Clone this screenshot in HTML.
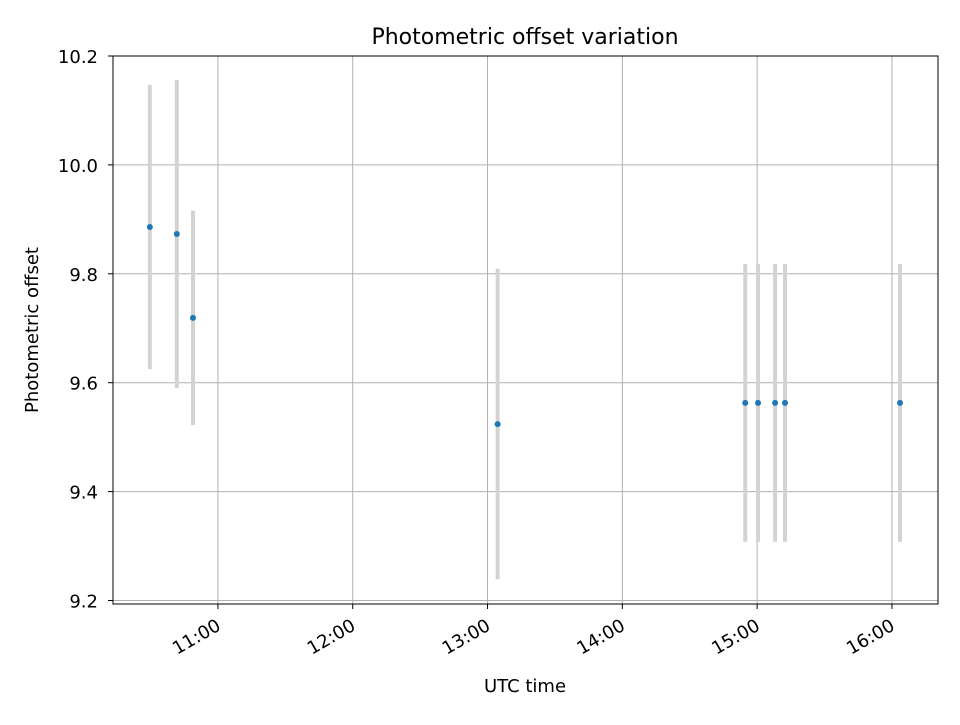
<!DOCTYPE html>
<html><head><meta charset="utf-8"><style>
body{margin:0;background:#fff;}
svg text{font-family:"DejaVu Sans","Liberation Sans",sans-serif;}
</style></head><body>
<svg id="chart" width="960" height="720" xmlns="http://www.w3.org/2000/svg">
<rect width="960" height="720" fill="#fff"/>
<g id="grid"></g><g id="bars"></g><g id="pts"></g><g id="axes"></g>
<text x="525" y="44" text-anchor="middle" font-size="22">Photometric offset variation</text>
<text x="525" y="692" text-anchor="middle" font-size="18">UTC time</text>
<text transform="translate(38,330) rotate(-90)" text-anchor="middle" font-size="18">Photometric offset</text>
</svg>
<script>
// times in minutes after midnight (UTC)
const times=[629.7,641.7,648.9,784.5,894.7,900.4,908,912.4,963.6];
const offsets=[9.886,9.873,9.719,9.524,9.563,9.563,9.563,9.563,9.563];
const errors=[0.261,0.283,0.197,0.285,0.255,0.255,0.255,0.255,0.255];
const yTicks=[9.2,9.4,9.6,9.8,10.0,10.2];
const xTicks=[660,720,780,840,900,960];
const xTickLabels=["11:00","12:00","13:00","14:00","15:00","16:00"];
const L=113,R=938,T=56,B=604;
const xMin=613.3,xMax=980.5,yMin=9.1936,yMax=10.2;
const X=t=>L+(t-xMin)/(xMax-xMin)*(R-L);
const Y=v=>B-(v-yMin)/(yMax-yMin)*(B-T);
const NS="http://www.w3.org/2000/svg";
function mk(p,tag,a){const e=document.createElementNS(NS,tag);for(const k in a)e.setAttribute(k,a[k]);document.getElementById(p).appendChild(e);return e;}
yTicks.forEach(v=>{const y=Y(v);
 const g=mk('grid','line',{x1:L,x2:R,y1:y,y2:y,stroke:'#b0b0b0','stroke-width':1});
 
 
 const t=mk('axes','line',{x1:L-5,x2:L,y1:y,y2:y,stroke:'#000'});
 
 
 const l=mk('axes','text',{x:L-15,y:y+7,'text-anchor':'end','font-size':18});
 l.textContent=v.toFixed(1);
 
 
});
xTicks.forEach((v,i)=>{const x=X(v);
 const g=mk('grid','line',{x1:x,x2:x,y1:T,y2:B,stroke:'#b0b0b0','stroke-width':1});
 
 
 const t=mk('axes','line',{x1:x,x2:x,y1:B,y2:B+5,stroke:'#000'});
 
 
 const l=mk('axes','text',{transform:`translate(${x+4},${B+25}) rotate(-30)`,'text-anchor':'end','font-size':18});
 l.textContent=xTickLabels[i];
 
 
});
times.forEach((t,i)=>{const x=X(t);
 const b=mk('bars','line',{x1:x,x2:x,y1:Y(offsets[i]+errors[i]),y2:Y(offsets[i]-errors[i]),stroke:'#d3d3d3','stroke-width':4});
 
 
 const c=mk('pts','circle',{cx:x,cy:Y(offsets[i]),r:3,fill:'#1f77b4'});
 
 
});
const f=mk('axes','rect',{x:L,y:T,width:R-L,height:B-T,fill:'none',stroke:'#000','stroke-width':1});


</script>
</body></html>
